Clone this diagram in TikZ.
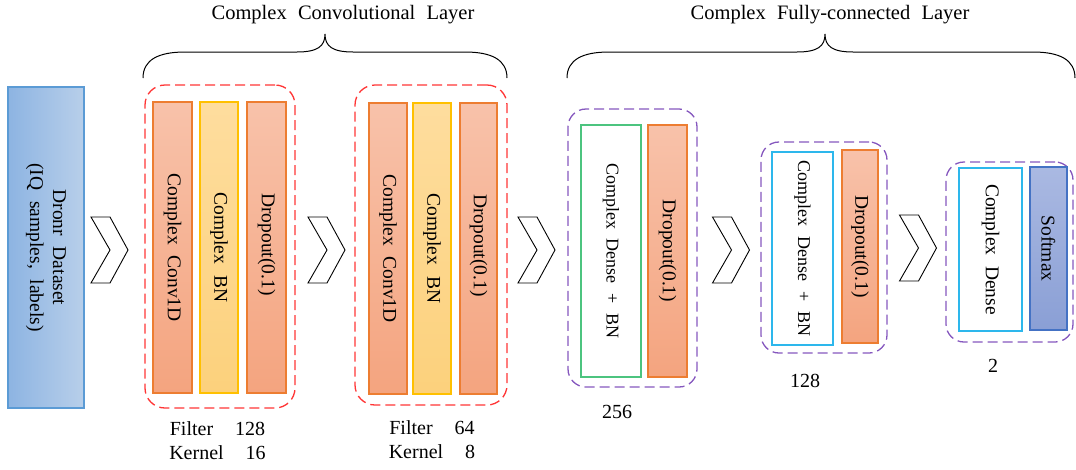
\documentclass[tikz,border=0pt]{standalone}
\usepackage{fontspec}
\setmainfont{Liberation Serif}[WordSpace=2.2]
\usetikzlibrary{fit}

\definecolor{dataEdge}{HTML}{5B9BD5}
\definecolor{dataLeft}{HTML}{8DB4E2}
\definecolor{dataRight}{HTML}{B8CFEA}
\definecolor{orEdge}{HTML}{ED7D31}
\definecolor{orTop}{HTML}{F8C2AA}
\definecolor{orBot}{HTML}{F4A47F}
\definecolor{bnEdge}{HTML}{FFC000}
\definecolor{bnTop}{HTML}{FEDD9E}
\definecolor{bnBot}{HTML}{FCD17C}
\definecolor{smEdge}{HTML}{4472C4}
\definecolor{smTop}{HTML}{AAB9E2}
\definecolor{smBot}{HTML}{8A9FD5}
\definecolor{denseGreen}{HTML}{4CC47F}
\definecolor{denseCyan}{HTML}{2DB7EC}
\definecolor{grpRed}{HTML}{FF3535}
\definecolor{grpPurple}{HTML}{8557BE}

\tikzset{
  box/.style={inner sep=0pt, line width=1.3pt},
  databox/.style={box, draw=dataEdge, left color=dataLeft, right color=dataRight},
  orangebar/.style={box, draw=orEdge, top color=orTop, bottom color=orBot},
  bnbar/.style={box, draw=bnEdge, top color=bnTop, bottom color=bnBot},
  softbar/.style={box, draw=smEdge, top color=smTop, bottom color=smBot},
  greenbox/.style={box, draw=denseGreen, fill=white},
  cyanbox/.style={box, draw=denseCyan, fill=white},
  vtext/.style={rotate=-90, inner sep=0pt, align=center,
    font=\fontsize{19.5}{23}\selectfont},
  densetext/.style={vtext, font=\fontsize{18}{22}\selectfont},
  convgroup/.style={inner sep=0pt, draw=grpRed, line width=1.3pt,
    dash pattern=on 10pt off 5pt, rounded corners=20pt},
  fcgroup/.style={inner sep=0pt, draw=grpPurple, line width=1.3pt,
    dash pattern=on 10pt off 5pt, rounded corners=18pt},
  bracket/.style={draw=black, line width=1pt},
  title/.style={font=\fontsize{20.5}{24}\selectfont},
  chev/.pic={
    \draw[line width=0.9pt, fill=white, line join=miter]
      (-18.5,-33) -- (0.5,-33) -- (18.5,0) -- (0.5,33) -- (-18.5,33) -- (0.5,0) -- cycle;
  },
}

\begin{document}
\begin{tikzpicture}[x=1pt, y=-1pt, font=\fontsize{20}{24}\selectfont]
\useasboundingbox (0,0) rectangle (1076,469);

% input data
\node[databox, fit={(8,87) (84,408)}] (data) {};
\node[vtext] (datat) at (data) {Dronr Dataset\\(IQ samples, labels)};

% convolutional block 1
\node[convgroup, fit={(145,85) (295,408)}] (cg1) {};
\node[orangebar, fit={(153,102) (192,393)}] (c1) {};
\node[bnbar, fit={(200,102) (238,393)}] (b1) {};
\node[orangebar, fit={(247,102) (286,393)}] (d1) {};
\node[vtext] (c1t) at (c1) {Complex Conv1D};
\node[vtext] (b1t) at (b1) {Complex BN};
\node[vtext] (d1t) at ([yshift=3]d1.center) {Dropout(0.1)};
\node[align=center] (p1) at (217.5,441) {Filter\ \ 128\\Kernel\ \ 16};

% convolutional block 2
\node[convgroup, fit={(355,85) (507,405)}] (cg2) {};
\node[orangebar, fit={(369,103) (407,394)}] (c2) {};
\node[bnbar, fit={(413,103) (451,394)}] (b2) {};
\node[orangebar, fit={(460,103) (497,394)}] (d2) {};
\node[vtext] (c2t) at (c2) {Complex Conv1D};
\node[vtext] (b2t) at (b2) {Complex BN};
\node[vtext] (d2t) at ([yshift=3]d2.center) {Dropout(0.1)};
\node[align=center] (p2) at (432,440) {Filter\ \ 64\\Kernel\ \ 8};

% dense block 1
\node[fcgroup, fit={(568,109) (697,387)}] (fg1) {};
\node[greenbox, fit={(581,125) (641,377)}] (g1) {};
\node[orangebar, fit={(648,125) (687,377)}] (d3) {};
\node[densetext] (g1t) at (g1) {Complex Dense + BN};
\node[vtext] (d3t) at (d3) {Dropout(0.1)};
\node (n1) at (617,412) {256};

% dense block 2
\node[fcgroup, fit={(761,142) (887,353)}] (fg2) {};
\node[cyanbox, fit={(772,152) (833,345)}] (g2) {};
\node[orangebar, fit={(842,150) (878,343)}] (d4) {};
\node[densetext] (g2t) at (g2) {Complex Dense + BN};
\node[vtext] (d4t) at (d4) {Dropout(0.1)};
\node (n2) at (805,381) {128};

% output block
\node[fcgroup, fit={(946,162) (1073,342)}] (fg3) {};
\node[cyanbox, fit={(959,168) (1022,331)}] (g3) {};
\node[softbar, fit={(1030,167) (1067,330)}] (sm) {};
\node[vtext] (g3t) at (g3) {Complex Dense};
\node[vtext] (smt) at (sm) {Softmax};
\node (n3) at (993,366) {2};

% flow chevrons
\pic at (109.5,250) {chev};
\pic at (326.5,250) {chev};
\pic at (536.5,250) {chev};
\pic at (731,250) {chev};
\pic at (918,248) {chev};

% braces and titles
\draw[bracket] (143,78) .. controls (143,60) and (158,52) .. (185,52) -- (297,52)
  .. controls (318,52) and (325,46) .. (325,34)
  .. controls (325,46) and (332,52) .. (353,52) -- (465,52)
  .. controls (492,52) and (507,60) .. (507,78);
\node[title] (t1) at (343,15) {Complex Convolutional Layer};

\draw[bracket] (567,78) .. controls (567,60) and (582,52) .. (609,52) -- (797,52)
  .. controls (818,52) and (825,46) .. (825,34)
  .. controls (825,46) and (832,52) .. (853,52) -- (1033,52)
  .. controls (1060,52) and (1075,60) .. (1075,78);
\node[title] (t2) at (830,15) {Complex Fully-connected Layer};
\end{tikzpicture}
\end{document}
